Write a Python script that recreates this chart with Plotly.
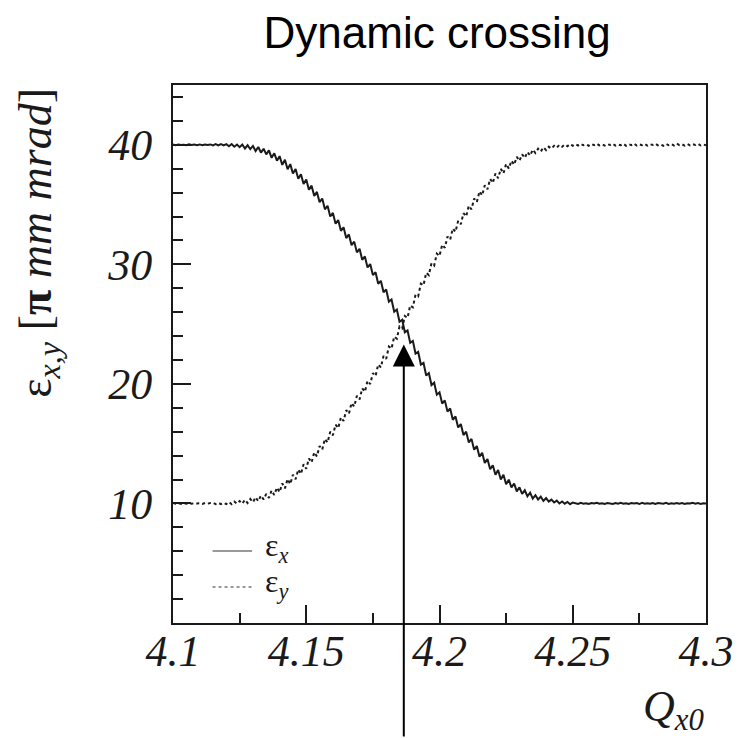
import plotly.graph_objects as go

# Tune scan grid Q_x0 from 4.100 to 4.300 in steps of 0.001
q_x0 = [round(4.100 + 0.001 * k, 3) for k in range(201)]

# Horizontal emittance eps_x [pi mm mrad]
eps_x = [
    40.02, 39.97, 40.03, 39.98, 40.01, 39.96, 40.04, 39.99, 40.02, 39.97,
    40.03, 39.96, 40.02, 39.98, 40.03,
    39.95, 40.05, 39.95, 40.05, 39.95, 40.05,
    39.88, 40.06, 39.84, 40.02, 39.80,
    40.02, 39.69, 39.96, 39.63, 39.90,
    39.48, 39.81, 39.34, 39.67, 39.20,
    39.53, 38.91, 39.29, 38.67, 39.05,
    38.32, 38.74, 37.96, 38.38, 37.60,
    37.98, 37.16, 37.54, 36.72, 37.10,
    36.24, 36.58, 35.72, 36.06, 35.20,
    35.50, 34.60, 34.90, 34.00, 34.30,
    33.40, 33.70, 32.80, 33.10, 32.20,
    32.50, 31.60, 31.90, 31.00, 31.30,
    30.38, 30.66, 29.74, 30.02, 29.10,
    29.34, 28.38, 28.62, 27.66, 27.90,
    26.88, 27.06, 26.04, 26.22, 25.20,
    25.36, 24.32, 24.48, 23.44, 23.60,
    22.54, 22.68, 21.62, 21.76, 20.70,
    20.90, 19.90, 20.10, 19.10, 19.30,
    18.36, 18.62, 17.68, 17.94, 17.00,
    17.28, 16.36, 16.64, 15.72, 16.00,
    15.10, 15.40, 14.50, 14.80, 13.90,
    14.24, 13.38, 13.72, 12.86, 13.20,
    12.40, 12.80, 12.00, 12.40, 11.60,
    11.99, 11.33, 11.67, 11.01, 11.35,
    10.80, 11.10, 10.60, 10.90, 10.40,
    10.69, 10.33, 10.57, 10.21, 10.45,
    10.16, 10.32, 10.08, 10.24, 10.00,
    10.16, 9.98, 10.12, 9.94, 10.08,
    10.03, 9.96, 10.05, 9.98, 10.02, 9.95, 10.04, 9.99, 10.06, 9.97,
    10.02, 9.96, 10.03, 10.00, 9.95, 10.04, 9.98, 10.05, 9.97, 10.02,
    9.96, 10.04, 9.99, 10.03, 9.95, 10.06, 9.98, 10.02, 9.97, 10.04,
    9.96, 10.03, 10.00, 9.97, 10.05, 9.96, 10.02, 9.98, 10.04, 9.97,
    10.03, 9.95, 10.02, 9.99, 10.05, 9.97, 10.03, 9.96, 10.02, 10.00,
]

# Vertical emittance eps_y [pi mm mrad]
eps_y = [
    10.03, 9.97, 10.02, 9.96, 10.04, 9.98, 10.02, 9.97, 10.03, 9.99,
    10.02, 9.96, 10.04, 9.98, 10.03,
    10.05, 9.95, 10.05, 9.95, 10.05, 9.95,
    10.12, 9.94, 10.16, 9.98, 10.20,
    9.98, 10.31, 10.04, 10.37, 10.10,
    10.52, 10.19, 10.66, 10.33, 10.80,
    10.47, 11.09, 10.71, 11.33, 10.95,
    11.68, 11.26, 12.04, 11.62, 12.40,
    12.02, 12.84, 12.46, 13.28, 12.90,
    13.76, 13.42, 14.28, 13.94, 14.80,
    14.50, 15.40, 15.10, 16.00, 15.70,
    16.60, 16.30, 17.20, 16.90, 17.80,
    17.50, 18.40, 18.10, 19.00, 18.70,
    19.62, 19.34, 20.26, 19.98, 20.90,
    20.66, 21.62, 21.38, 22.34, 22.10,
    23.12, 22.94, 23.96, 23.78, 24.80,
    24.64, 25.68, 25.52, 26.56, 26.40,
    27.46, 27.32, 28.38, 28.24, 29.30,
    29.10, 30.10, 29.90, 30.90, 30.70,
    31.64, 31.38, 32.32, 32.06, 33.00,
    32.72, 33.64, 33.36, 34.28, 34.00,
    34.90, 34.60, 35.50, 35.20, 36.10,
    35.76, 36.62, 36.28, 37.14, 36.80,
    37.60, 37.20, 38.00, 37.60, 38.40,
    38.01, 38.67, 38.33, 38.99, 38.65,
    39.20, 38.90, 39.40, 39.10, 39.60,
    39.31, 39.67, 39.43, 39.79, 39.55,
    39.84, 39.68, 39.92, 39.76, 40.00,
    39.84, 40.02, 39.88, 40.06, 39.92,
    40.05, 39.94, 40.08, 39.96, 40.03, 39.92, 40.07, 39.97, 40.10, 39.95,
    40.04, 39.93, 40.06, 39.98, 40.09, 39.94, 40.03, 39.96, 40.08, 39.92,
    40.05, 39.97, 40.10, 39.94, 40.04, 39.96, 40.07, 39.93, 40.05, 39.98,
    40.09, 39.95, 40.03, 39.92, 40.08, 39.96, 40.06, 39.94, 40.10, 39.97,
    40.04, 39.93, 40.07, 39.95, 40.05, 39.98, 40.08, 39.94, 40.03, 39.96,
]

x_ticks = [4.1, 4.15, 4.2, 4.25, 4.3]
x_tick_text = ["4.1", "4.15", "4.2", "4.25", "4.3"]
y_ticks = [10, 20, 30, 40]
y_tick_text = ["10", "20", "30", "40"]

# Tune at which the two emittances exchange
q_cross = 4.1866
eps_cross_tip = 23.3

SERIF = "Liberation Serif, Times New Roman, serif"
SANS = "Liberation Sans, Arial, sans-serif"
INK = "#1a1a1a"

fig = go.Figure()
fig.add_trace(go.Scatter(x=q_x0, y=eps_x, mode="lines",
                         line=dict(color=INK, width=2), name="εx",
                         showlegend=False))
fig.add_trace(go.Scatter(x=q_x0, y=eps_y, mode="lines",
                         line=dict(color=INK, width=2, dash="dot"), name="εy",
                         showlegend=False))

axis_common = dict(
    showgrid=False, zeroline=False, showline=True, linecolor=INK, linewidth=2,
    mirror=True, ticks="inside", tickcolor=INK, tickwidth=2, ticklen=18,
    tickfont=dict(family=SERIF, size=44, color=INK, style="italic"),
)

fig.update_xaxes(range=[4.1, 4.3], tickmode="array", tickvals=x_ticks,
                 ticktext=x_tick_text,
                 minor=dict(dtick=0.025, tick0=4.1, ticks="inside", ticklen=10,
                            tickwidth=2, tickcolor=INK),
                 ticklabelstandoff=-12, **axis_common)
fig.update_yaxes(range=[0, 45], tickmode="array", tickvals=y_ticks,
                 ticktext=y_tick_text,
                 minor=dict(dtick=2, tick0=0, ticks="inside", ticklen=10,
                            tickwidth=2, tickcolor=INK),
                 ticklabelstandoff=10, **axis_common)

annotations = [
    # y-axis title
    dict(text="ε<sub><i>x,y</i></sub> [<b>π</b> <i>mm mrad</i>]",
         xref="paper", yref="paper", x=-0.252, y=0.706, xanchor="center",
         yanchor="middle", textangle=-90, showarrow=False,
         font=dict(family=SERIF, size=46, color=INK)),
    # x-axis title
    dict(text="<i>Q</i><sub><i>x0</i></sub>", xref="paper", yref="paper",
         x=1.0, y=-0.16, xanchor="right", yanchor="middle", showarrow=False,
         font=dict(family=SERIF, size=44, color=INK)),
    # legend labels
    dict(text="ε<sub><i>x</i></sub>", xref="paper", yref="paper", x=0.168,
         y=0.141, xanchor="left", yanchor="middle", showarrow=False,
         font=dict(family=SERIF, size=32, color=INK)),
    dict(text="ε<sub><i>y</i></sub>", xref="paper", yref="paper", x=0.168,
         y=0.073, xanchor="left", yanchor="middle", showarrow=False,
         font=dict(family=SERIF, size=32, color=INK)),
    # arrow pointing at the crossing
    dict(text="", x=q_cross, y=eps_cross_tip, xref="x", yref="y", ax=0, ay=395,
         showarrow=True, arrowhead=2, arrowsize=2.2, arrowwidth=2,
         arrowcolor="black", standoff=0),
]

shapes = [
    dict(type="line", xref="paper", yref="paper", x0=0.0742, x1=0.1484,
         y0=0.1338, y1=0.1338, line=dict(color="#777777", width=1.5)),
    dict(type="line", xref="paper", yref="paper", x0=0.0742, x1=0.1484,
         y0=0.0669, y1=0.0669, line=dict(color="#777777", width=1.5, dash="dot")),
]

fig.update_layout(
    width=746, height=738,
    margin=dict(l=173, r=34, t=85, b=115),
    paper_bgcolor="white", plot_bgcolor="white",
    title=dict(text="Dynamic crossing", x=0.586, xanchor="center",
               y=1 - 33 / 738, yanchor="middle", yref="container",
               font=dict(family=SANS, size=44, color="black")),
    annotations=annotations,
    shapes=shapes,
    showlegend=False,
)

fig.write_html("out.html")
